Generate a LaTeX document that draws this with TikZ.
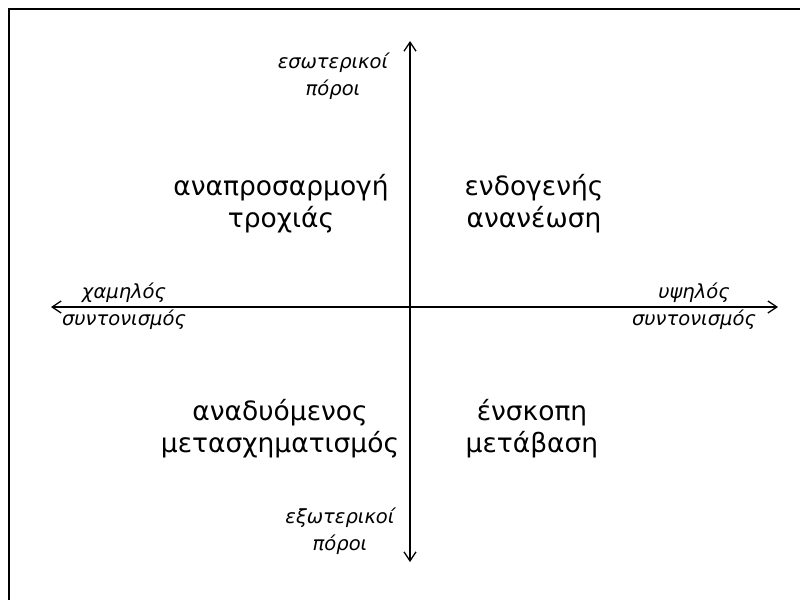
\documentclass[tikz,border=0pt]{standalone}
\usepackage{fontspec}
\setmainfont{DejaVu Sans}
\usetikzlibrary{arrows.meta}
\begin{document}
\begin{tikzpicture}[x=1pt,y=-1pt,
  axis/.style={line width=1.3pt,-{Straight Barb[length=9pt,width=12pt,line width=1.3pt]}},
  quad/.style={font=\fontsize{26.5}{32}\selectfont,align=center,anchor=base,inner sep=0pt},
  axlab/.style={font=\itshape\fontsize{19.5}{27}\selectfont,align=center,anchor=base,inner sep=0pt}]
\useasboundingbox (0,0) rectangle (800,600);
\draw[line width=2pt] (8.5,600) -- (8.5,8.5) -- (800,8.5);
\coordinate (O) at (410,307);
\coordinate (T) at (410,41);
\coordinate (B) at (410,562);
\coordinate (L) at (51,307);
\coordinate (R) at (778,307);
\draw[axis] (O) -- (T);
\draw[axis] (O) -- (B);
\draw[axis] (O) -- (L);
\draw[axis] (O) -- (R);
\node[axlab] (top) at (333,95) {εσωτερικοί\\πόροι};
\node[axlab] (bot) at (340,550) {εξωτερικοί\\πόροι};
\node[axlab] (left) at (124,325) {χαμηλός\\συντονισμός};
\node[axlab] (right) at (694,325) {υψηλός\\συντονισμός};
\node[quad] (q1) at (281,227) {αναπροσαρμογή\\τροχιάς};
\node[quad] (q2) at (534,227) {ενδογενής\\ανανέωση};
\node[quad] (q3) at (280,452) {αναδυόμενος\\μετασχηματισμός};
\node[quad] (q4) at (532,452) {ένσκοπη\\μετάβαση};
\end{tikzpicture}
\end{document}
